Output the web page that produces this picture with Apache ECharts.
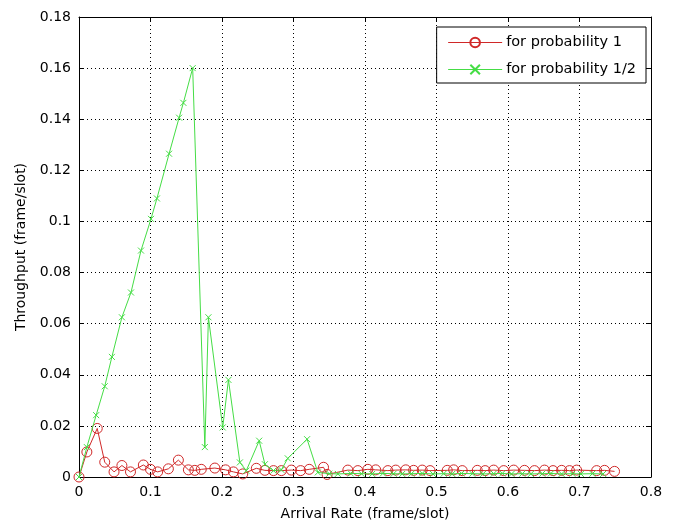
<!DOCTYPE html>
<html>
<head>
<meta charset="utf-8">
<script src="https://cdn.jsdelivr.net/npm/echarts@6/dist/echarts.min.js"></script>
<style>
html,body{margin:0;padding:0;background:#fff;}
#chart{width:678px;height:526px;}
</style>
</head>
<body>
<div id="chart"></div>
<script>
// data
var xTicks = [0, 0.1, 0.2, 0.3, 0.4, 0.5, 0.6, 0.7, 0.8];
var yTicks = [0, 0.02, 0.04, 0.06, 0.08, 0.1, 0.12, 0.14, 0.16, 0.18];

// for probability 1
var p1X = [0, 0.011, 0.0255, 0.036, 0.049, 0.06, 0.072, 0.09, 0.1, 0.11, 0.125, 0.139,
	0.153, 0.162, 0.171, 0.19, 0.205, 0.216, 0.229, 0.248, 0.26, 0.272, 0.283, 0.297,
	0.31, 0.322, 0.342, 0.347, 0.376, 0.39, 0.404, 0.415, 0.432, 0.443, 0.457,
	0.468, 0.48, 0.491, 0.515, 0.524, 0.536, 0.557, 0.568, 0.58, 0.594, 0.608,
	0.623, 0.637, 0.651, 0.663, 0.675, 0.686, 0.696, 0.724, 0.735, 0.749];
var p1Y = [0, 0.0098, 0.019, 0.0058, 0.002, 0.0045, 0.002, 0.0047, 0.003, 0.002, 0.0032, 0.0066,
	0.0028, 0.0026, 0.003, 0.0035, 0.0028, 0.002, 0.0012, 0.0034, 0.0026, 0.0025, 0.0025, 0.0027,
	0.0025, 0.003, 0.0038, 0.001, 0.0027, 0.0025, 0.003, 0.0028, 0.0025, 0.0027, 0.0028,
	0.0026, 0.0027, 0.0025, 0.0026, 0.0028, 0.0025, 0.0026, 0.0025, 0.0027, 0.0025, 0.0027,
	0.0026, 0.0025, 0.0027, 0.0025, 0.0026, 0.0025, 0.0027, 0.0025, 0.0026, 0.0022];

// for probability 1/2
var p2X = [0, 0.011, 0.024, 0.036, 0.046, 0.06, 0.0727, 0.0867, 0.1007, 0.109, 0.126, 0.14, 0.146, 0.159,
	0.176, 0.181, 0.201, 0.209, 0.225, 0.234, 0.252, 0.26, 0.272, 0.283, 0.292, 0.319, 0.334,
	0.35, 0.362, 0.38, 0.395, 0.41, 0.425, 0.44, 0.452, 0.465, 0.48, 0.495, 0.51, 0.522, 0.535,
	0.55, 0.565, 0.58, 0.592, 0.605, 0.62, 0.632, 0.648, 0.66, 0.675, 0.69, 0.702, 0.718, 0.733];
var p2Y = [0, 0.0117, 0.0242, 0.0355, 0.047, 0.0625, 0.0722, 0.0886, 0.101, 0.109, 0.1265, 0.1406, 0.1464, 0.16,
	0.0117, 0.0625, 0.0194, 0.038, 0.0057, 0.0025, 0.0142, 0.005, 0.0025, 0.0028, 0.0073, 0.0148, 0.0018,
	0.0013, 0.0012, 0.0014, 0.0013, 0.0012, 0.0014, 0.0013, 0.0012, 0.0013, 0.0014, 0.0012, 0.0013, 0.0012, 0.0014,
	0.0013, 0.0012, 0.0013, 0.0014, 0.0012, 0.0013, 0.0012, 0.0013, 0.0014, 0.0012, 0.0013, 0.0012, 0.0013, 0.0012];

function pairs(xs, ys) {
	var out = [];
	for (var i = 0; i < xs.length; i++) {
		out.push([xs[i], ys[i]]);
	}
	return out;
}

var red = '#d02828';
var green = '#45dd45';
var font = 'DejaVu Sans, Arial, sans-serif';

var chart = echarts.init(document.getElementById('chart'), null, {renderer: 'canvas'});

var tickStyle = {show: true, inside: true, length: 5, lineStyle: {color: '#000'}};
var gridLine = {show: true, lineStyle: {color: '#000', type: [1, 3], width: 1}};
var lbl = function(v) { return String(+v.toFixed(2)); };

chart.setOption({
	backgroundColor: '#fff',
	animation: false,
	grid: {left: 79, right: 27, top: 17, bottom: 48, containLabel: false},
	legend: {
		right: 32, top: 27,
		orient: 'vertical',
		backgroundColor: '#fff',
		borderColor: '#000', borderWidth: 1,
		padding: [8, 10, 6, 11],
		itemGap: 12,
		itemWidth: 54, itemHeight: 12,
		lineStyle: {width: 1},
		textStyle: {fontFamily: font, fontSize: 14.5, color: '#000', padding: [0, 0, 0, -1]},
		data: ['for probability 1', 'for probability 1/2']
	},
	xAxis: [{
		type: 'value', min: 0, max: 0.8, interval: 0.1,
		name: 'Arrival Rate (frame/slot)', nameLocation: 'middle', nameGap: 30,
		nameTextStyle: {fontFamily: font, fontSize: 14, color: '#000'},
		axisLine: {show: true, onZero: false, lineStyle: {color: '#000'}},
		axisTick: tickStyle,
		axisLabel: {fontFamily: font, fontSize: 14, color: '#000', margin: 8, formatter: lbl},
		splitLine: gridLine
	}, {
		type: 'value', position: 'top', min: 0, max: 0.8, interval: 0.1,
		axisLine: {show: true, onZero: false, lineStyle: {color: '#000'}},
		axisTick: tickStyle, axisLabel: {show: false}, splitLine: {show: false}
	}],
	yAxis: [{
		type: 'value', min: 0, max: 0.18, interval: 0.02,
		name: 'Throughput (frame/slot)', nameLocation: 'middle', nameGap: 51,
		nameTextStyle: {fontFamily: font, fontSize: 14, color: '#000'},
		axisLine: {show: true, onZero: false, lineStyle: {color: '#000'}},
		axisTick: tickStyle,
		axisLabel: {fontFamily: font, fontSize: 14, color: '#000', margin: 8, formatter: lbl},
		splitLine: gridLine
	}, {
		type: 'value', position: 'right', min: 0, max: 0.18, interval: 0.02,
		axisLine: {show: true, onZero: false, lineStyle: {color: '#000'}},
		axisTick: tickStyle, axisLabel: {show: false}, splitLine: {show: false}
	}],
	series: [{
		name: 'for probability 1',
		type: 'line',
		data: pairs(p1X, p1Y),
		symbol: 'circle',
		symbolSize: 10,
		lineStyle: {color: red, width: 1},
		itemStyle: {color: 'rgba(0,0,0,0)', borderColor: red, borderWidth: 1},
		z: 2
	}, {
		name: 'for probability 1/2',
		type: 'line',
		data: pairs(p2X, p2Y),
		symbol: 'path://M0,0L10,10M10,0L0,10',
		symbolSize: 6,
		lineStyle: {color: green, width: 1},
		itemStyle: {color: green, borderColor: green, borderWidth: 1},
		z: 3
	}]
});
</script>
</body>
</html>
